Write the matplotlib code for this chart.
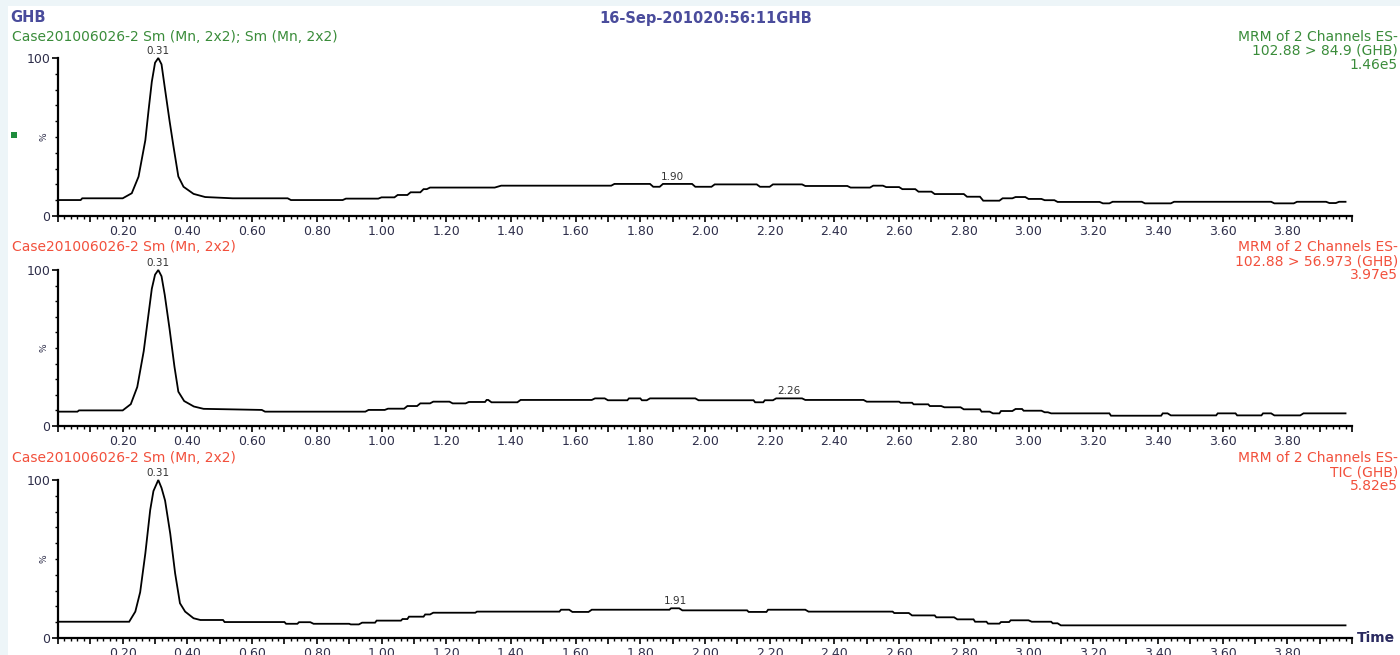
import matplotlib
matplotlib.use("Agg")
import numpy as np
import matplotlib.pyplot as plt
from matplotlib.patches import Rectangle
from matplotlib.ticker import FixedLocator, MultipleLocator, FuncFormatter

# ---- chromatogram traces (retention time in min, relative intensity in %) ----
time_ch1 = [0.00, 0.07, 0.075, 0.20, 0.228, 0.249, 0.27, 0.28, 0.29, 0.30, 0.31, 0.32, 0.331, 0.345,
            0.357, 0.372, 0.388, 0.419, 0.455, 0.54, 0.71, 0.72, 0.88, 0.89, 0.99, 1.00, 1.04, 1.05,
            1.08, 1.09, 1.12, 1.13, 1.14, 1.15, 1.35, 1.37, 1.71, 1.72, 1.83, 1.84, 1.86, 1.87, 1.96,
            1.97, 2.02, 2.03, 2.16, 2.17, 2.20, 2.21, 2.30, 2.31, 2.44, 2.45, 2.51, 2.52, 2.55, 2.56,
            2.60, 2.61, 2.65, 2.66, 2.70, 2.71, 2.80, 2.81, 2.85, 2.86, 2.91, 2.92, 2.95, 2.96, 2.99,
            3.00, 3.04, 3.05, 3.08, 3.09, 3.22, 3.23, 3.25, 3.26, 3.35, 3.36, 3.44, 3.45, 3.75, 3.76,
            3.82, 3.83, 3.92, 3.93, 3.95, 3.96, 3.98]
intensity_ch1 = [10.1, 10.1, 11.2, 11.2, 14.4, 24.9, 48, 67, 85, 97, 100, 96, 80, 60,
                 44, 25, 18.5, 14, 12, 11.2, 11.2, 10.1, 10.1, 11, 11, 11.8, 11.8, 13.3,
                 13.3, 15, 15, 17, 17, 18, 18, 19.2, 19.2, 20.3, 20.3, 18.5, 18.5, 20.3, 20.3,
                 18.5, 18.5, 20, 20, 18.5, 18.5, 20, 20, 19, 19, 18, 18, 19.2, 19.2, 18.3,
                 18.3, 17, 17, 15.4, 15.4, 13.9, 13.9, 12.2, 12.2, 9.7, 9.7, 11.2, 11.2, 12, 12,
                 10.8, 10.8, 10, 10, 8.9, 8.9, 8, 8, 9, 9, 8, 8, 9, 9, 8,
                 8, 9, 9, 8.2, 8.2, 9, 9]

time_ch2 = [0.00, 0.06, 0.065, 0.20, 0.225, 0.245, 0.265, 0.28, 0.29, 0.30, 0.31, 0.32, 0.33, 0.345,
            0.36, 0.372, 0.39, 0.42, 0.45, 0.63, 0.64, 0.95, 0.96, 1.01, 1.02, 1.07, 1.08, 1.11,
            1.12, 1.15, 1.16, 1.21, 1.22, 1.26, 1.27, 1.32, 1.325, 1.33, 1.34, 1.42, 1.43, 1.65,
            1.66, 1.69, 1.70, 1.76, 1.765, 1.80, 1.805, 1.82, 1.83, 1.97, 1.98, 2.15, 2.155, 2.18,
            2.185, 2.21, 2.22, 2.30, 2.31, 2.49, 2.50, 2.60, 2.605, 2.64, 2.645, 2.69, 2.695, 2.73,
            2.74, 2.79, 2.80, 2.85, 2.855, 2.88, 2.89, 2.91, 2.915, 2.95, 2.96, 2.98, 2.985, 3.04,
            3.05, 3.06, 3.07, 3.25, 3.255, 3.41, 3.415, 3.43, 3.44, 3.58, 3.585, 3.64, 3.645, 3.72,
            3.725, 3.75, 3.76, 3.84, 3.85, 3.98]
intensity_ch2 = [9.2, 9.2, 10, 10, 14, 25, 48, 72, 88, 97, 100, 96, 84, 62,
                 38, 22, 16, 12.5, 11, 10.3, 9.2, 9.2, 10.3, 10.3, 11.1, 11.1, 12.8, 12.8,
                 14.5, 14.5, 15.6, 15.6, 14.5, 14.5, 15.4, 15.4, 16.7, 16.7, 15.2, 15.2, 16.7, 16.7,
                 17.7, 17.7, 16.5, 16.5, 17.7, 17.7, 16.5, 16.5, 17.7, 17.7, 16.5, 16.5, 15.2, 15.2,
                 16.5, 16.5, 17.7, 17.7, 16.7, 16.7, 15.6, 15.6, 14.9, 14.9, 13.9, 13.9, 12.8, 12.8,
                 12, 12, 10.7, 10.7, 9.2, 9.2, 8.1, 8.1, 9.6, 9.6, 10.9, 10.9, 9.8, 9.8,
                 8.8, 8.8, 8.1, 8.1, 6.6, 6.6, 8.1, 8.1, 6.8, 6.8, 8.1, 8.1, 6.8, 6.8,
                 8.1, 8.1, 6.8, 6.8, 8.1, 8.1]

time_tic = [0.00, 0.22, 0.239, 0.254, 0.27, 0.285, 0.295, 0.31, 0.32, 0.331, 0.347, 0.362, 0.377,
            0.393, 0.419, 0.44, 0.51, 0.515, 0.70, 0.705, 0.74, 0.745, 0.78, 0.79, 0.90, 0.905,
            0.93, 0.94, 0.98, 0.985, 1.06, 1.065, 1.08, 1.085, 1.13, 1.135, 1.15, 1.16, 1.29, 1.295,
            1.55, 1.555, 1.58, 1.59, 1.64, 1.65, 1.89, 1.895, 1.92, 1.93, 2.13, 2.135, 2.19, 2.195,
            2.31, 2.32, 2.58, 2.585, 2.63, 2.64, 2.71, 2.715, 2.77, 2.78, 2.83, 2.835, 2.87, 2.875,
            2.91, 2.915, 2.94, 2.945, 3.00, 3.01, 3.07, 3.075, 3.09, 3.10, 3.98]
intensity_tic = [10.3, 10.3, 16.7, 29, 53.6, 81, 93, 100, 95, 87, 66, 41, 22,
                 16.7, 12.5, 11.4, 11.4, 10.1, 10.1, 9, 9, 10, 10, 9, 9, 8.6,
                 8.6, 9.7, 9.7, 11, 11, 12, 12, 13.5, 13.5, 14.9, 14.9, 16, 16, 16.7,
                 16.7, 17.9, 17.9, 16.5, 16.5, 17.9, 17.9, 18.8, 18.8, 17.5, 17.5, 16.5, 16.5, 17.9,
                 17.9, 16.7, 16.7, 15.8, 15.8, 14.3, 14.3, 13.1, 13.1, 11.8, 11.8, 10.3, 10.3, 9.1,
                 9.1, 10.1, 10.1, 11.2, 11.2, 10.3, 10.3, 9.3, 9.3, 8, 8]

# labelled peak apex times per trace
peaks_ch1 = [0.31, 1.90]
peaks_ch2 = [0.31, 2.26]
peaks_tic = [0.31, 1.91]

# header texts
left_titles = ["Case201006026-2 Sm (Mn, 2x2); Sm (Mn, 2x2)",
               "Case201006026-2 Sm (Mn, 2x2)",
               "Case201006026-2 Sm (Mn, 2x2)"]
right_titles = [["MRM of 2 Channels ES-", "102.88 > 84.9 (GHB)", "1.46e5"],
                ["MRM of 2 Channels ES-", "102.88 > 56.973 (GHB)", "3.97e5"],
                ["MRM of 2 Channels ES-", "TIC (GHB)", "5.82e5"]]

W, H = 1400, 655
FONT = "DejaVu Sans"
GREEN = "#3a8c3a"
RED = "#f2503c"
BLUE = "#4a4c9c"
TICKC = "#2e2e4a"
HEAD_SIZE = 10.0

fig = plt.figure(figsize=(W / 100, H / 100), dpi=100, facecolor="white")


def fx(px):
    return px / W


def fy(py):
    return 1 - py / H


# pale frame along top and left edges
fig.patches.append(Rectangle((0, fy(6)), 1, 6 / H, transform=fig.transFigure,
                             facecolor="#edf5f8", edgecolor="none", zorder=0))
fig.patches.append(Rectangle((0, 0), 8 / W, 1, transform=fig.transFigure,
                             facecolor="#edf5f8", edgecolor="none", zorder=0))

fig.text(fx(10), fy(17), "GHB", color=BLUE, fontsize=10.5, fontweight="bold",
         family=FONT, va="center", ha="left")
fig.text(fx(706), fy(18), "16-Sep-201020:56:11GHB", color=BLUE, fontsize=10.5,
         fontweight="bold", family=FONT, va="center", ha="center")

# panel geometry in pixels: (y of 100 %, y of 0 %)
panels = [(58, 216), (270, 426), (480, 638)]
header_y = [37, 247, 458]
colors = [GREEN, RED, RED]
traces = [(time_ch1, intensity_ch1, peaks_ch1),
          (time_ch2, intensity_ch2, peaks_ch2),
          (time_tic, intensity_tic, peaks_tic)]
x_left, x_right = 58, 1352


def xfmt(v, pos):
    k = int(round(v * 10))
    if k % 2 == 0 and 2 <= k <= 38:
        return f"{v:.2f}"
    return ""


for i, ((ytop, ybot), (t, inten, pk)) in enumerate(zip(panels, traces)):
    ax = fig.add_axes([fx(x_left), fy(ybot), (x_right - x_left) / W, (ybot - ytop) / H])
    ax.set_facecolor("none")
    ax.plot(t, inten, color="black", lw=1.3, clip_on=False, solid_joinstyle="miter")
    ax.set_xlim(0, 4.0)
    ax.set_ylim(0, 100)
    for s in ("top", "right"):
        ax.spines[s].set_visible(False)
    for s in ("left", "bottom"):
        ax.spines[s].set_linewidth(1.6)
        ax.spines[s].set_color("black")

    ax.xaxis.set_major_locator(MultipleLocator(0.1))
    ax.xaxis.set_minor_locator(MultipleLocator(0.02))
    ax.xaxis.set_major_formatter(FuncFormatter(xfmt))
    ax.yaxis.set_major_locator(FixedLocator([0, 100]))
    ax.yaxis.set_minor_locator(MultipleLocator(10))
    ax.yaxis.set_major_formatter(FuncFormatter(lambda v, p: f"{int(v)}"))

    ax.tick_params(axis="x", which="major", length=4.5, width=1.2, direction="out",
                   pad=2, labelsize=9, labelcolor=TICKC)
    ax.tick_params(axis="x", which="minor", length=2.5, width=1.0, direction="out")
    ax.tick_params(axis="y", which="major", length=4.5, width=1.2, direction="out",
                   pad=1, labelsize=9, labelcolor=TICKC)
    ax.tick_params(axis="y", which="minor", length=2.5, width=1.0, direction="out")
    for lab in ax.get_xticklabels() + ax.get_yticklabels():
        lab.set_family(FONT)

    ax.text(-0.011, 50, "%", transform=ax.get_yaxis_transform(), rotation=90,
            fontsize=6.5, color=TICKC, ha="center", va="center", family=FONT)

    # peak labels placed just above the trace at each apex time
    for p in pk:
        yv = float(np.interp(p, t, inten))
        ax.annotate(f"{p:.2f}", xy=(p, yv), xytext=(0, 1.5), textcoords="offset points",
                    ha="center", va="bottom", fontsize=7.5, color="#333333",
                    family=FONT, annotation_clip=False)

    col = colors[i]
    fig.text(fx(12), fy(header_y[i]), left_titles[i], color=col, fontsize=HEAD_SIZE,
             family=FONT, ha="left", va="center")
    for j, line in enumerate(right_titles[i]):
        fig.text(fx(1398), fy(header_y[i] + 14 * j), line, color=col, fontsize=HEAD_SIZE,
                 family=FONT, ha="right", va="center")

fig.text(fx(1357), fy(638), "Time", color="#2a2a60", fontsize=10, fontweight="bold",
         family=FONT, ha="left", va="center")

# trace selection marker
fig.patches.append(Rectangle((fx(11), fy(138)), 6 / W, 6 / H, transform=fig.transFigure,
                             facecolor="#1e8c3c", edgecolor="none"))

fig.savefig("out.png", dpi=100, facecolor=fig.get_facecolor())
